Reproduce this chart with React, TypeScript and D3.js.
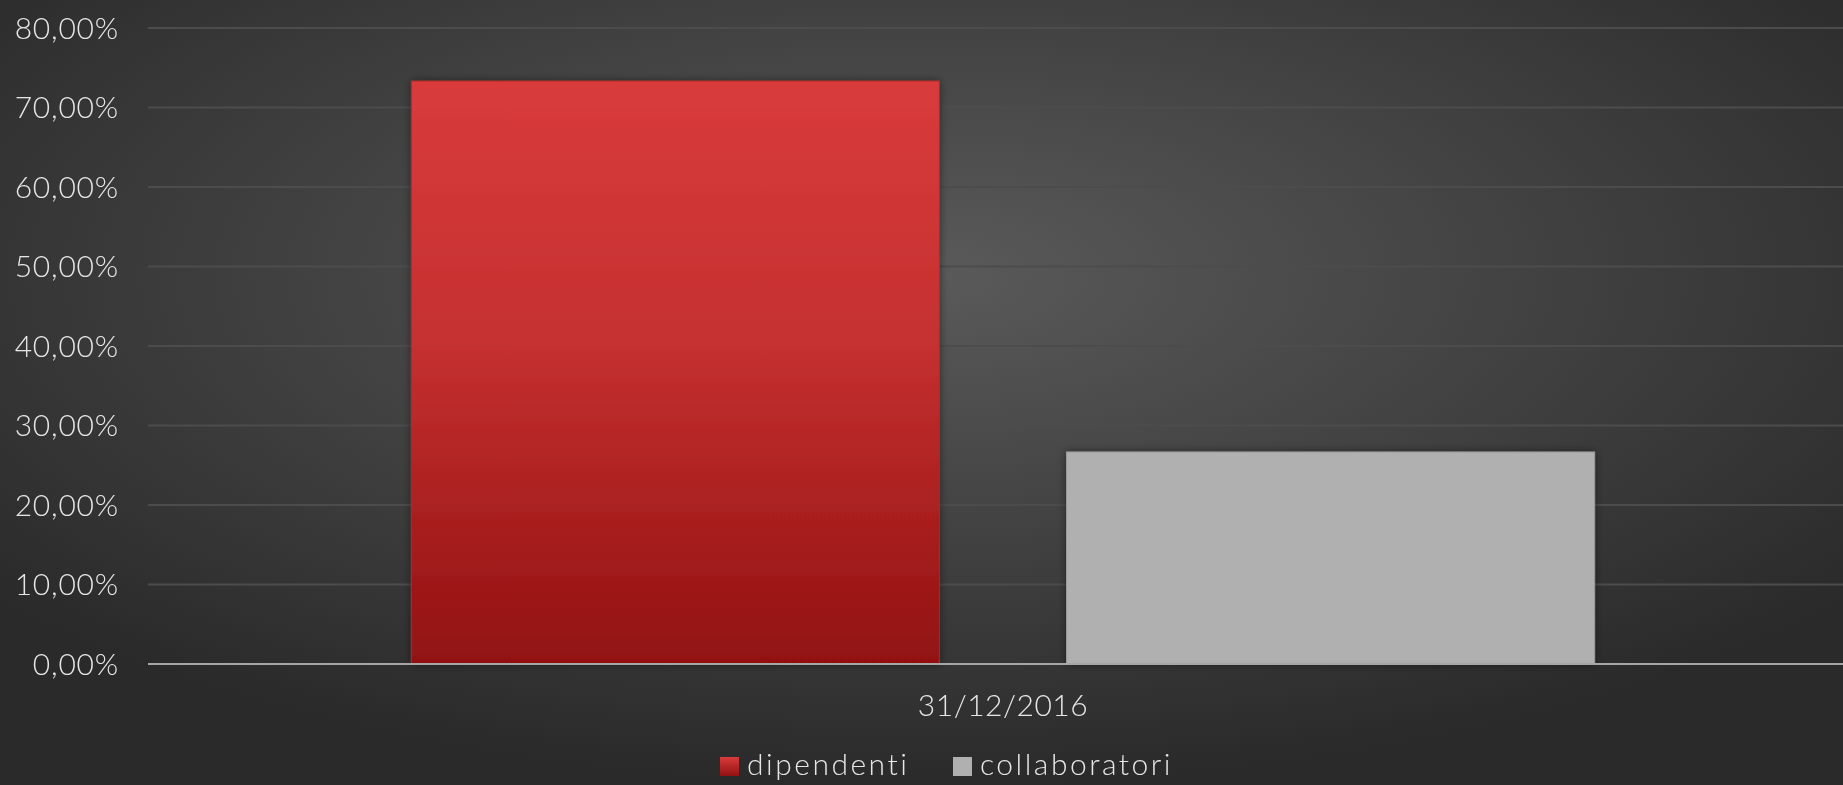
import React from "react";
import * as d3 from "d3";

const categories = ["31/12/2016"];
const seriesNames = ["dipendenti", "collaboratori"];
const seriesValues = [0.7333, 0.2667];
const yTicks = [0, 0.1, 0.2, 0.3, 0.4, 0.5, 0.6, 0.7, 0.8];

const W = 1843;
const H = 785;
const FONT = "Lato, 'Open Sans', sans-serif";

export default function App() {
  const y = d3.scaleLinear().domain([0, 0.8]).range([664, 28]);
  const x0 = d3.scaleBand<string>().domain(categories).range([148, 1858]).padding(0);
  const x1 = d3
    .scaleBand<string>()
    .domain(seriesNames)
    .range([0, x0.bandwidth()])
    .paddingInner(0.194)
    .paddingOuter(0.402);
  const fmt = (v: number) => (v * 100).toFixed(2).replace(".", ",") + "%";
  const fills = ["url(#redGrad)", "#b0b0b0"];
  const legendColors = ["url(#redGradL)", "#b0b0b0"];
  const cat = categories[0];

  return (
    <div style={{ position: "fixed", left: 0, top: 0, width: W, height: H }}>
      <svg width={W} height={H} style={{ display: "block" }}>
        <defs>
          <radialGradient id="bg" cx="50%" cy="35%" r="65%" fx="50%" fy="35%">
            <stop offset="0%" stopColor="#5a5a5a" />
            <stop offset="100%" stopColor="#2a2a2a" />
          </radialGradient>
          <linearGradient id="redGrad" x1="0" y1="0" x2="0" y2="1">
            <stop offset="0%" stopColor="#d93b3b" />
            <stop offset="45%" stopColor="#c53030" />
            <stop offset="100%" stopColor="#921111" />
          </linearGradient>
          <linearGradient id="redGradL" x1="0" y1="0" x2="0" y2="1">
            <stop offset="0%" stopColor="#d93b3b" />
            <stop offset="100%" stopColor="#921111" />
          </linearGradient>
          <filter id="shadow" x="-10%" y="-10%" width="120%" height="120%">
            <feDropShadow dx="0" dy="0" stdDeviation="4" floodColor="#000" floodOpacity="0.45" />
          </filter>
        </defs>
        <rect x={0} y={0} width={W} height={H} fill="url(#bg)" />
        {yTicks.map((t) =>
          t === 0 ? null : (
            <line key={t} x1={148} x2={W} y1={y(t)} y2={y(t)} stroke="#4c4c4c" strokeWidth={2} />
          )
        )}
        {yTicks.map((t) => (
          <text
            key={"l" + t}
            x={119}
            y={y(t)}
            dy="0.35em"
            textAnchor="end"
            fill="#e6e6e6"
            fontFamily={FONT}
            fontWeight={300}
            fontSize={30}
            letterSpacing={0.8}
          >
            {fmt(t)}
          </text>
        ))}
        {seriesNames.map((s, i) => {
          const bx = (x0(cat) ?? 0) + (x1(s) ?? 0);
          return (
            <rect
              key={s}
              x={bx}
              y={y(seriesValues[i])}
              width={x1.bandwidth()}
              height={y(0) - y(seriesValues[i])}
              fill={fills[i]}
              stroke={i === 0 ? "#b02a2a" : "#9a9a9a"}
              strokeWidth={1}
              filter="url(#shadow)"
            />
          );
        })}
        <line x1={148} x2={W} y1={y(0)} y2={y(0)} stroke="#a6a6a6" strokeWidth={2} />
        <text
          x={(x0(cat) ?? 0) + x0.bandwidth() / 2}
          y={716}
          textAnchor="middle"
          fill="#e6e6e6"
          fontFamily={FONT}
          fontWeight={300}
          fontSize={30}
          letterSpacing={0.5}
        >
          {cat}
        </text>
        {seriesNames.map((s, i) => {
          const lx = [720, 953][i];
          return (
            <g key={"lg" + s}>
              <rect x={lx} y={757} width={19} height={19} fill={legendColors[i]} />
              <text
                x={lx + 27}
                y={775}
                fill="#e6e6e6"
                fontFamily={FONT}
                fontWeight={300}
                fontSize={30}
                letterSpacing={2.5}
              >
                {s}
              </text>
            </g>
          );
        })}
      </svg>
    </div>
  );
}
